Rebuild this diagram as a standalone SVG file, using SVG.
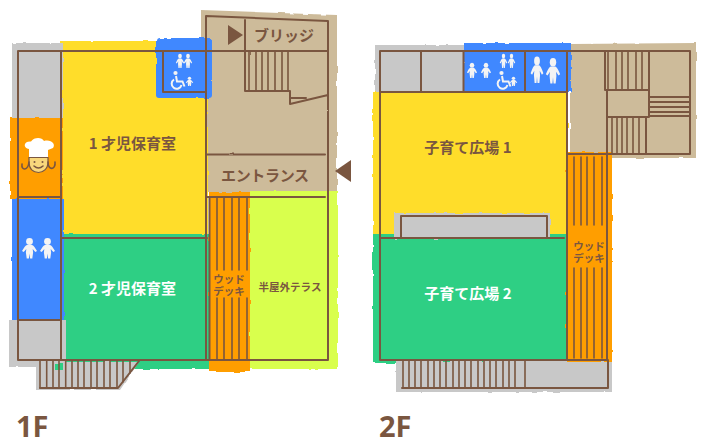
<svg xmlns="http://www.w3.org/2000/svg" width="702" height="441" viewBox="0 0 702 441">
<style>
.w{fill:none;stroke:#7a5640;stroke-width:2;stroke-linecap:round;stroke-linejoin:round}
.t{fill:none;stroke:#7a5640;stroke-width:1.6;stroke-linecap:round}
text{font-family:"Noto Sans CJK JP","Noto Sans",sans-serif;font-weight:700;fill:#7a5640;text-anchor:middle}
.l{font-size:15px}
.m{font-size:10.500px}
.wh{fill:#fff}
.big{font-family:"Open Sans","Liberation Sans",sans-serif;font-size:29px;text-anchor:start}
.ic{fill:#f4f4f4}
</style>
<defs>
<filter id="rough" x="-5%" y="-5%" width="110%" height="110%"><feTurbulence type="fractalNoise" baseFrequency="0.09" numOctaves="2" seed="4"/><feDisplacementMap in="SourceGraphic" scale="2.6" xChannelSelector="R" yChannelSelector="G"/></filter>
<filter id="rough2" x="-5%" y="-5%" width="110%" height="110%"><feTurbulence type="fractalNoise" baseFrequency="0.05" numOctaves="2" seed="9"/><feDisplacementMap in="SourceGraphic" scale="1.500" xChannelSelector="R" yChannelSelector="G"/></filter>
<g id="p"><circle cx="0" cy="-7" r="3.4"/><path d="M-2.5,-3.6H2.5Q4.5,-3 7.5,2.5L5.8,3.6L3.2,0.5L3.6,4L2.8,10H0.6L0,5L-0.6,10H-2.8L-3.6,4L-3.2,0.5L-5.8,3.6L-7.5,2.5Q-4.5,-3 -2.5,-3.6Z"/></g>
<g id="wc"><circle cx="175.5" cy="73" r="2.1" fill="#f4f4f4"/><path d="M176,76L177,81.5H182.5L184.5,86.5M174,79.5A5,5 0 1 0 181.5,85" fill="none" stroke="#f4f4f4" stroke-width="2"/></g>
</defs>

<g id="floor-1f-fills" filter="url(#rough)">
<path d="M201,10L337,15V192H208V40H201Z" fill="#cdbb9a"/>
<rect x="60" y="41" width="148" height="197" fill="#ffdd2b"/>
<rect x="12" y="43" width="51" height="78" fill="#c8c8c8"/>
<rect x="63" y="234" width="147" height="135" fill="#2dcf84"/>
<rect x="250" y="191" width="88" height="178" fill="#d9ff4d"/>
<rect x="209" y="192" width="41" height="180" fill="#ff9e00"/>
<rect x="10" y="118" width="53" height="81" fill="#ff9e00"/>
<rect x="12" y="199" width="52" height="122" fill="#3f88ff"/>
<rect x="9" y="320" width="57" height="47" fill="#c8c8c8"/>
<rect x="156" y="38" width="56" height="60" rx="3" fill="#3f88ff"/>
<path d="M36,362H139L120,390H36Z" fill="#c8c8c8"/>
<rect x="55" y="364" width="8" height="6" fill="#2dcf84"/>
</g>
<g id="floor-2f-fills" filter="url(#rough)">
<path d="M570,44L696,43V158H570Z" fill="#cdbb9a"/>
<rect x="373" y="92" width="195" height="144" fill="#ffdd2b"/>
<rect x="373" y="234" width="194" height="129" fill="#2dcf84"/>
<rect x="375" y="45" width="90" height="47" fill="#c8c8c8"/>
<rect x="464" y="43" width="107" height="49" fill="#3f88ff"/>
<rect x="394" y="213" width="156" height="26" fill="#c8c8c8"/>
<rect x="396" y="361" width="216" height="31" fill="#c8c8c8"/>
<rect x="566" y="152" width="46" height="210" fill="#ff9e00"/>
</g>

<g id="walls" filter="url(#rough2)">
<path class="w" d="M18,51H206M18,51V360H328V21L206,16V360M61,51V360M206,51H328M245,20V91H290V104L328,95M290,98H306M206,154.500H325M207,197H325M18,197H61M18,320H61M62,238H207M163,52V92H206M209.500,197V360"/>
<path class="t" d="M249,52V90M256,52V90M262,52V90M268,52V90M275,52V90M282,52V90M288,52V90"/>
<path class="t" d="M217,198V270M224,198V270M232,198V270M239,198V270M247,198V270M217,298V359M224,298V359M232,298V359M239,298V359M247,298V359"/>
<path class="t" d="M40,361V388M46.700,361V388M53,361V388M59,361V388M65.700,361V388M72,361V388M78,361V388M84,361V388M91,361V388M97,361V388M104,361V388M110,361V388M117,361V388M123,361V382M130,361V373"/>
<path class="w" d="M40,388H118L139,361"/>

<path class="w" d="M380,51H690V154H567M380,51V360H607V95M567,51V360M380,92H567M421,52V92M463.500,52V92M525,52V92M605,51V90H649V51M607,90V117H649V90M649,97H690M650,102H690M650,107H690M650,112H690M649,116H690M646,117V154M401,238V216H547V238M380,238H564M608,360V388H402"/>
<path class="t" d="M608,52V89M616,52V89M622,52V89M628,52V89M636,52V89M642,52V89M612,118V153M617,118V153M622,118V153M627,118V153M633,118V153M639,118V153"/>
<path class="t" d="M574,157V225M581,157V225M587,157V225M594,157V225M602,157V225M574,268V358M581,268V358M587,268V358M594,268V358M602,268V358"/>
<path class="t" d="M403,361V387M409,361V387M415,361V387M421,361V387M428,361V387M434,361V387M440,361V387M446,361V387M453,361V387M459,361V387M465,361V387M471,361V387M478,361V387M484,361V387M490,361V387M496,361V387M503,361V387M509,361V387M515,361V387M525,361V387"/>
</g>

<g id="arrows" fill="#7a5640">
<path d="M228,25L243,35L228,45Z"/>
<path d="M335,171L351,160V182Z"/>
</g>

<g id="chef">
<path d="M29,158V149C23,148 23,141 31,141.500C34,137 42,137 44,141C51,139 56,144 53,148L48,150V158Z" fill="#fff"/>
<path d="M29,157.500H48V162C48,169 43,172.500 38.500,172.500C33,172.500 29,169 29,162Z" fill="#f8d77c" stroke="#7a5640" stroke-width="1.200"/>
<circle cx="34.500" cy="162" r="1" fill="#7a5640"/><circle cx="42.500" cy="162" r="1" fill="#7a5640"/>
<path d="M34,166Q38.500,170 43,166" class="t" stroke-width="1"/>
<path d="M29,162C28,171 21,171 22,164M48,162C48,171 56,170 55,162" class="t" stroke-width="1.200"/>
</g>

<g id="icons-1f" class="ic">
<use href="#p" transform="translate(180,61) scale(.55,.7)"/>
<use href="#p" transform="translate(188,61) scale(.55,.7)"/>
<use href="#wc"/>
<use href="#p" transform="translate(189.500,81.500) scale(.5,.45)"/>
<use href="#p" transform="translate(29.500,248.500)"/>
<use href="#p" transform="translate(47.500,248.500)"/>
</g>
<g id="icons-2f" class="ic">
<use href="#p" transform="translate(472,70.500) scale(.67,.75)"/>
<use href="#p" transform="translate(486,70.500) scale(.67,.75)"/>
<use href="#p" transform="translate(503.500,61) scale(.5,.7)"/>
<use href="#p" transform="translate(511.500,61) scale(.5,.7)"/>
<use href="#wc" transform="translate(326,0)"/>
<use href="#p" transform="translate(513.500,81.500) scale(.5,.45)"/>
<use href="#p" transform="translate(537,70) scale(.85,1.300)"/>
<use href="#p" transform="translate(553,71) scale(.95,1.250)"/>
</g>

<g id="labels">
<text class="l" x="132.500" y="149">1 才児保育室</text>
<text class="l wh" x="132.500" y="294">2 才児保育室</text>
<text class="l" x="265" y="181" textLength="88">エントランス</text>
<text class="l" x="284" y="41" textLength="60">ブリッジ</text>
<text class="m" x="229" y="283">ウッド<tspan x="229" y="294.500">デッキ</tspan></text>
<text x="290" y="291" style="font-size:10.500px">半屋外テラス</text>
<text class="l" x="468" y="153">子育て広場 1</text>
<text class="l wh" x="468" y="299">子育て広場 2</text>
<text class="m" x="589" y="250">ウッド<tspan x="589" y="262">デッキ</tspan></text>
<text class="big" x="16" y="437">1F</text>
<text class="big" x="379" y="437">2F</text>
</g>
</svg>
